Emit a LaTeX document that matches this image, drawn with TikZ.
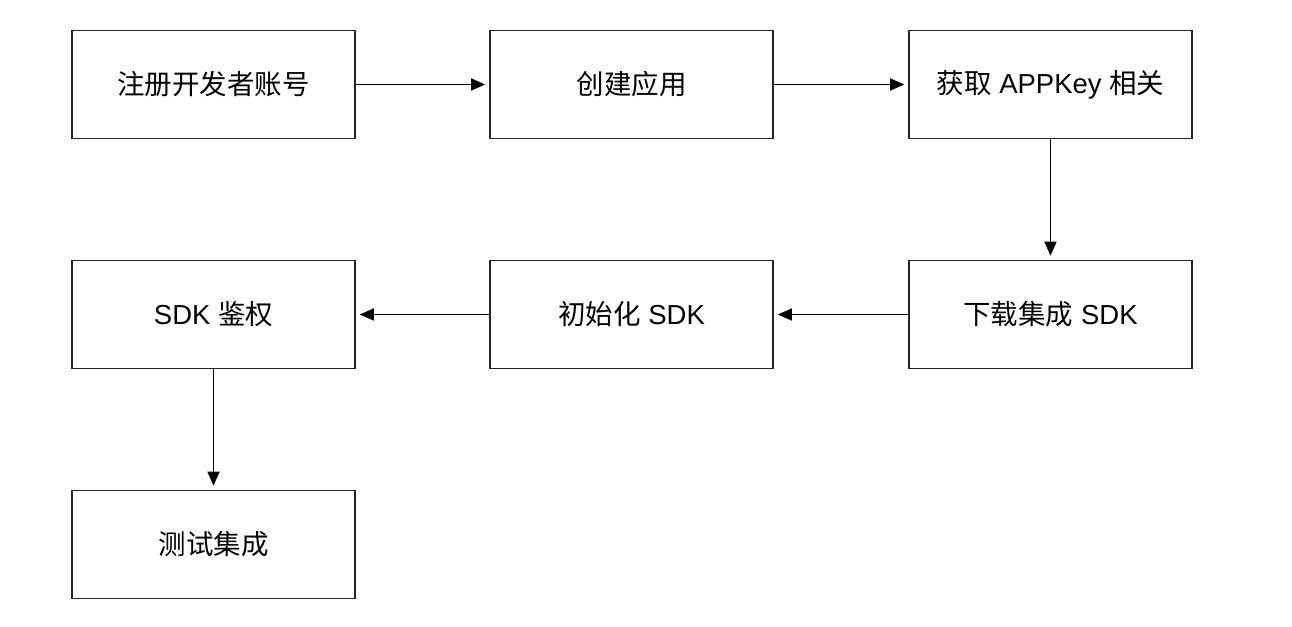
\documentclass[tikz,border=0pt]{standalone}
\usepackage{fontspec}
\setmainfont{Liberation Sans}
\newfontfamily\cjk{Noto Sans CJK SC}
\usetikzlibrary{arrows.meta}
\begin{document}
\begin{tikzpicture}[x=1pt,y=-1pt,
  box/.style={draw=black!85,line width=1.6pt,minimum width=283pt,minimum height=108pt,inner sep=0pt,font=\fontsize{27.5}{32}\selectfont},
  arr/.style={draw=black,line width=1.5pt,-{Triangle[length=14pt,width=12pt]},shorten >=4pt}]
\useasboundingbox (0,0) rectangle (1292,626);
\node[box] (a) at (213.5,84.5) {\cjk 注册开发者账号};
\node[box] (b) at (631.5,84.5) {\cjk 创建应用};
\node[box] (c) at (1050.5,84.5) {{\cjk 获取} APPKey {\cjk 相关}};
\node[box] (d) at (1050.5,314.5) {{\cjk 下载集成} SDK};
\node[box] (e) at (631.5,314.5) {{\cjk 初始化} SDK};
\node[box] (f) at (213.5,314.5) {SDK {\cjk 鉴权}};
\node[box] (g) at (213.5,544.5) {\cjk 测试集成};
\draw[arr] (a) -- (b);
\draw[arr] (b) -- (c);
\draw[arr] (c) -- (d);
\draw[arr] (d) -- (e);
\draw[arr] (e) -- (f);
\draw[arr] (f) -- (g);
\end{tikzpicture}
\end{document}
